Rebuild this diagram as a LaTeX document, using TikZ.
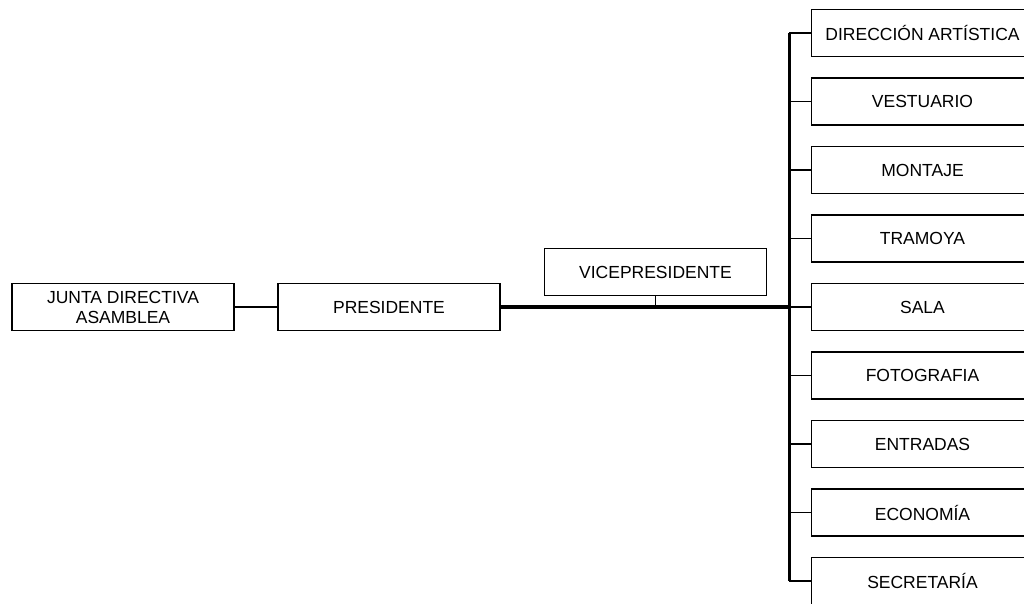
\documentclass[tikz,border=0pt]{standalone}
\usepackage{fontspec}
\setmainfont{Liberation Sans}
\begin{document}
\begin{tikzpicture}[x=1pt,y=-1pt,
  box/.style={draw=black,line width=1.5pt,minimum width=222pt,minimum height=47pt,inner sep=0pt,align=center,
    font=\fontsize{17.5}{20}\selectfont},
  thin/.style={line width=1.5pt},
  thickline/.style={line width=3.4pt},
  bus/.style={line width=3pt}]
\useasboundingbox (0,0) rectangle (1024,604);
\clip (0,0) rectangle (1024,604);
\node[box] (junta) at (123,307) {JUNTA DIRECTIVA\\ASAMBLEA};
\node[box] (pres) at (389,307) {PRESIDENTE};
\node[box] (vp) at (655.5,272) {VICEPRESIDENTE};
\node[box] (r1) at (922.5,33) {DIRECCIÓN ARTÍSTICA};
\node[box] (r2) at (922.5,101.5) {VESTUARIO};
\node[box] (r3) at (922.5,170) {MONTAJE};
\node[box] (r4) at (922.5,238.5) {TRAMOYA};
\node[box] (r5) at (922.5,307) {SALA};
\node[box] (r6) at (922.5,375.5) {FOTOGRAFIA};
\node[box] (r7) at (922.5,444) {ENTRADAS};
\node[box] (r8) at (922.5,512.5) {ECONOMÍA};
\node[box] (r9) at (922.5,581) {SECRETARÍA};
\coordinate (bx) at (789,0);
\draw[thin] (junta.east) -- (pres.west);
\draw[thickline] (pres.east) -- (bx |- pres.east);
\draw[thin] (vp.south) -- (vp.south |- pres.east);
\draw[bus] (bx |- r1.west) -- (bx |- r9.west);
\foreach \i in {1,...,9}{\draw[thin] (bx |- r\i.west) -- (r\i.west);}
\end{tikzpicture}
\end{document}
